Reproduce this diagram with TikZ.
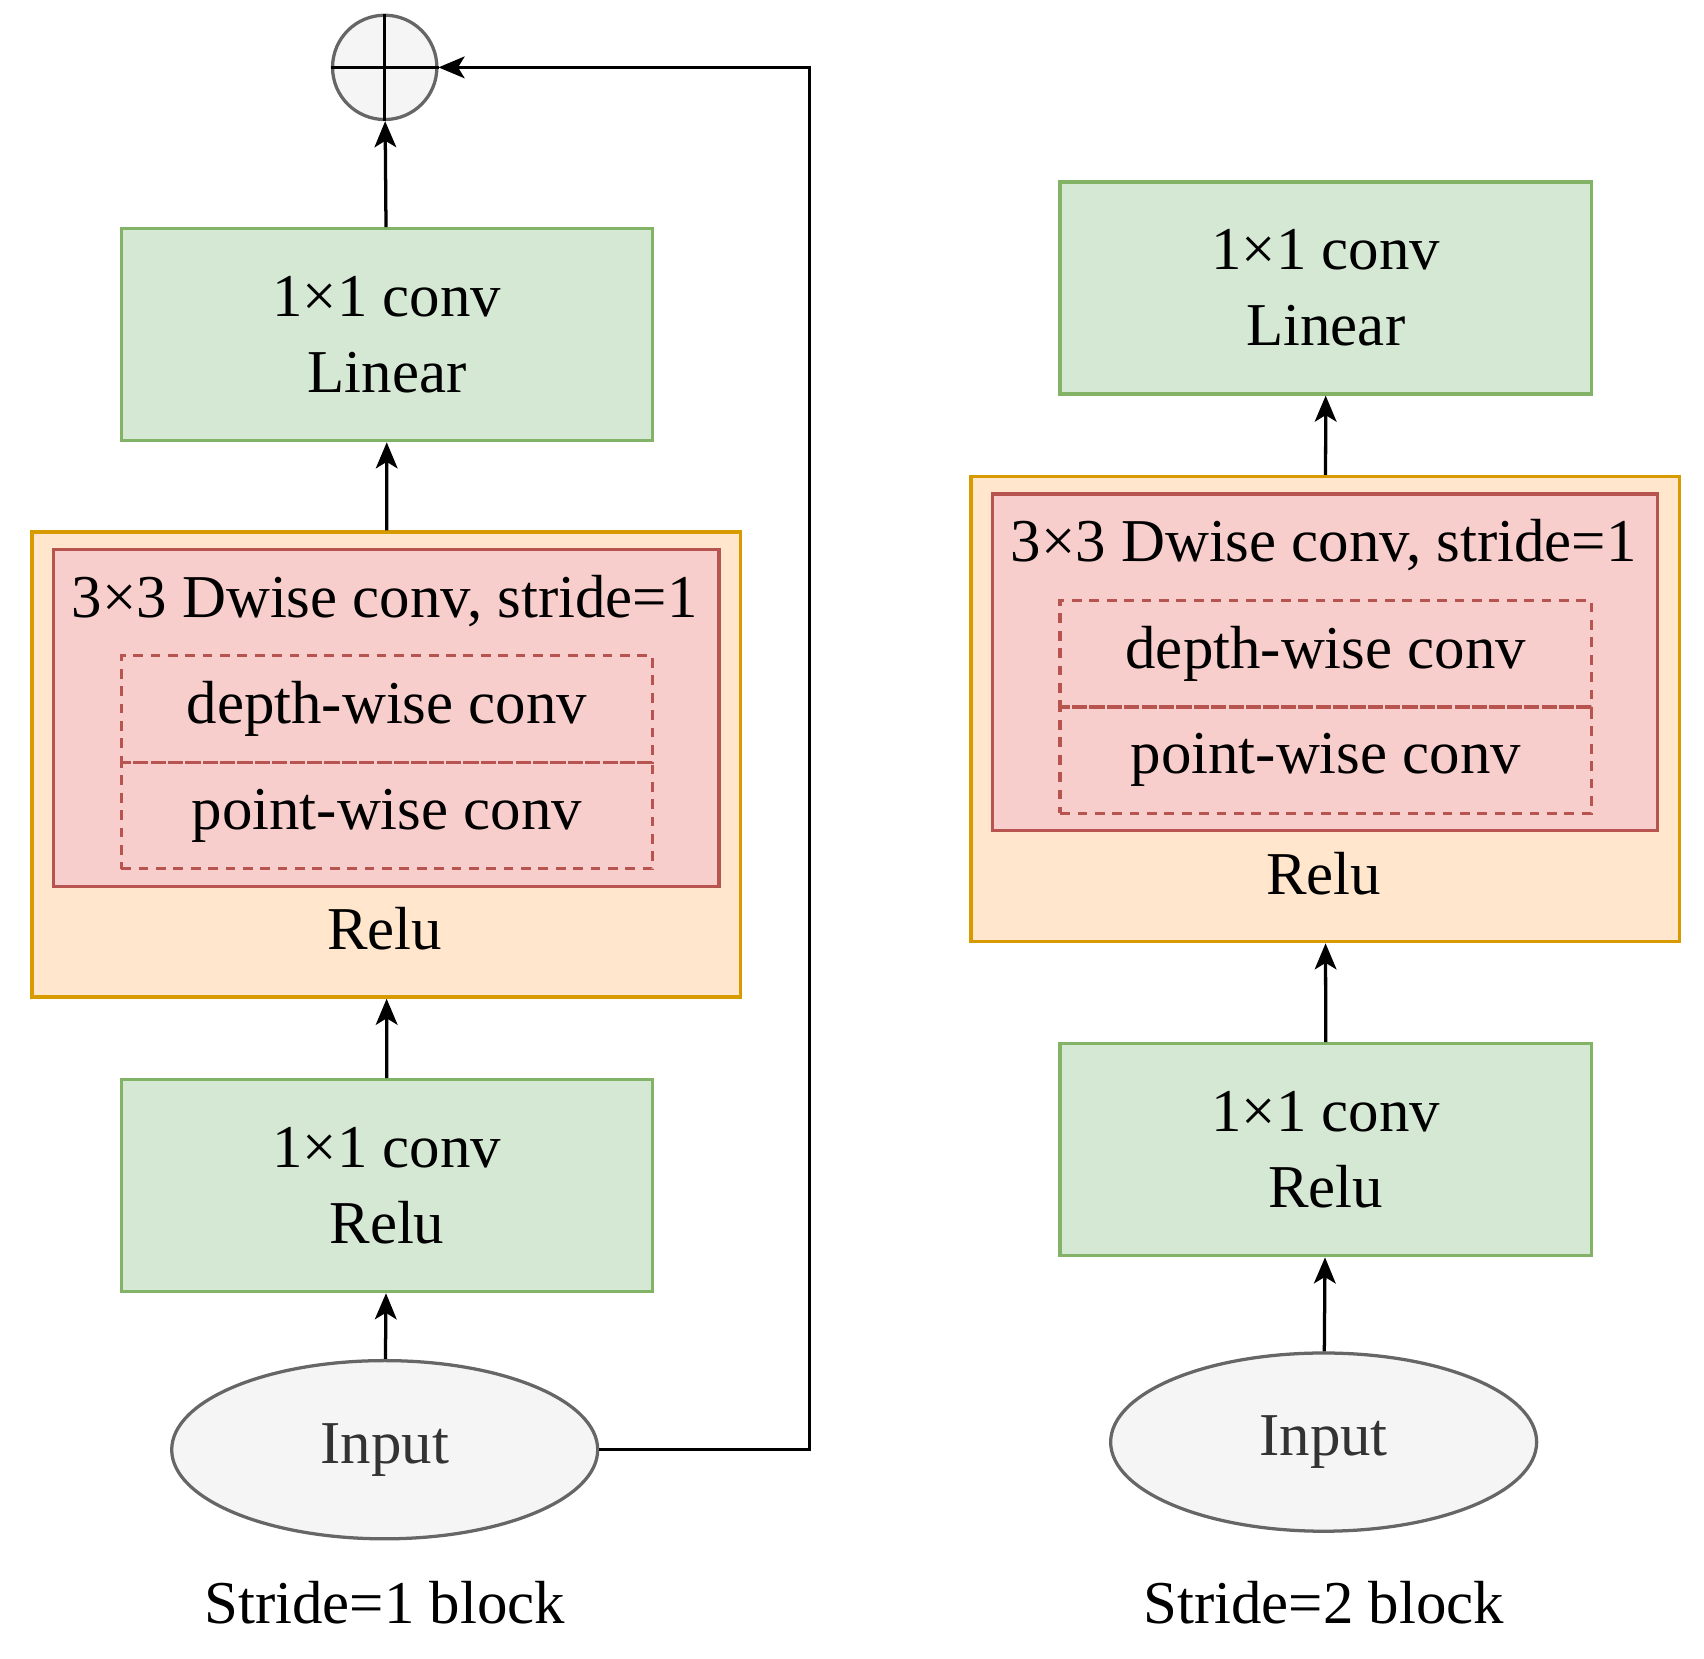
\documentclass[tikz,border=0pt]{standalone}
\usepackage{fontspec}
\setmainfont{Liberation Serif}
\usetikzlibrary{arrows.meta,shapes.geometric}
\definecolor{gF}{HTML}{D5E8D4}\definecolor{gS}{HTML}{82B366}
\definecolor{oF}{HTML}{FFE6CC}\definecolor{oS}{HTML}{D79B00}
\definecolor{rF}{HTML}{F8CECC}\definecolor{rS}{HTML}{B85450}
\definecolor{eF}{HTML}{F5F5F5}\definecolor{eS}{HTML}{666666}
\definecolor{tG}{HTML}{333333}
\begin{document}
\begin{tikzpicture}[x=1pt,y=-1pt,line width=3pt,
  txt/.style={font=\fontsize{56}{70}\selectfont,align=center,inner sep=0},
  bx/.style={draw,rectangle,inner sep=0,anchor=north west},
  gbx/.style={bx,fill=gF,draw=gS},
  obx/.style={bx,fill=oF,draw=oS},
  rbx/.style={bx,fill=rF,draw=rS},
  dbox/.style={bx,draw=rS,dash pattern=on 9pt off 7pt},
  arr/.style={-{Stealth[length=24pt,width=20pt,inset=6pt]},line width=3pt}]
\useasboundingbox (0,0) rectangle (1568,1526);
\newcommand\gbox[5]{% name, x, y, line1, line2
  \node[gbx,minimum width=489pt,minimum height=195pt] (#1) at (#2,#3) {};
  \node[txt] at (#1.center) {#4\\#5};}
\newcommand\midblk[4]{% prefix, x0, y0, cx
  \node[obx,minimum width=652pt,minimum height=428pt] (#1o) at (#2,#3) {};
  \node[rbx,minimum width=612pt,minimum height=310pt] (#1r) at (#2+20,#3+16) {};
  \node[txt] at (#4,#3+65) {3×3 Dwise conv, stride=1};
  \node[dbox,minimum width=489pt,minimum height=98pt] (#1d1) at (#2+82,#3+114) {};
  \node[dbox,minimum width=489pt,minimum height=98pt] (#1d2) at (#2+82,#3+212) {};
  \node[txt] at (#1d1.center) {depth-wise conv};
  \node[txt] at (#1d2.center) {point-wise conv};
  \node[txt] at (#4,#3+367) {Relu};}
% left
\node[circle,draw=eS,fill=eF,minimum size=96pt,inner sep=0] (sum) at (354,62) {};
\draw[line width=3pt] (sum.north) -- (sum.south) (sum.west) -- (sum.east);
\gbox{Lt}{110}{209}{1×1 conv}{Linear}
\midblk{L}{28}{488}{354}
\gbox{Lb}{110}{992}{1×1 conv}{Relu}
\node[ellipse,draw=eS,fill=eF,minimum width=392pt,minimum height=164pt,txt,text=tG] (Lin) at (354,1334) {Input};
\node[txt] at (354,1475) {Stride=1 block};
\draw[arr] (Lin) -- (Lb);
\draw[arr] (Lb) -- (Lo);
\draw[arr] (Lo) -- (Lt);
\draw[arr] (Lt) -- (sum);
\coordinate (c1) at (745,1334); \coordinate (c2) at (745,62);
\draw[arr] (Lin.east) -- (c1) -- (c2) -- (sum.east);
% right
\gbox{Rt}{974}{166}{1×1 conv}{Linear}
\midblk{R}{892}{437}{1218}
\gbox{Rb}{974}{959}{1×1 conv}{Relu}
\node[ellipse,draw=eS,fill=eF,minimum width=392pt,minimum height=164pt,txt,text=tG] (Rin) at (1218,1327) {Input};
\node[txt] at (1218,1475) {Stride=2 block};
\draw[arr] (Rin) -- (Rb);
\draw[arr] (Rb) -- (Ro);
\draw[arr] (Ro) -- (Rt);
\end{tikzpicture}
\end{document}
